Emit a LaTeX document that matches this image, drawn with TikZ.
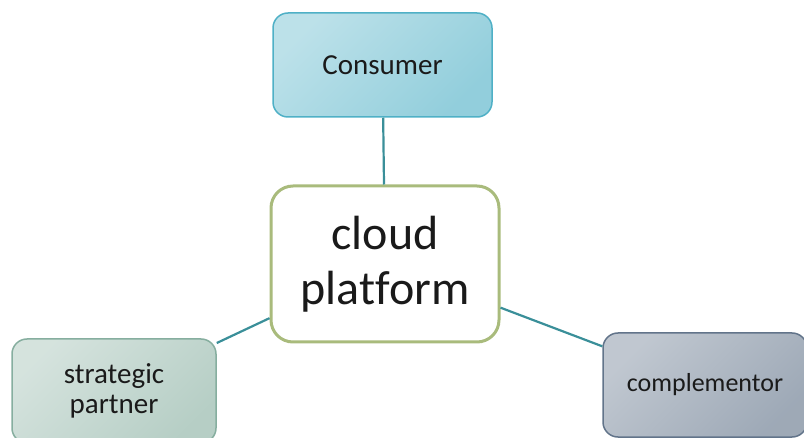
\documentclass[tikz,border=0pt]{standalone}
\usepackage{xcolor}
\usepackage{fontspec}
\setmainfont[Ligatures=NoCommon]{Carlito}
\usepackage{tikz}

\definecolor{linkteal}{HTML}{3A8F99}
\definecolor{consline}{HTML}{4FB0C6}
\definecolor{cloudline}{HTML}{A9BB7C}
\definecolor{partline}{HTML}{86AE9F}
\definecolor{compline}{HTML}{62748A}
\definecolor{textgray}{HTML}{1A1A1A}

\begin{document}
\begin{tikzpicture}[x=1pt, y=1pt,
    box/.style={rounded corners=15pt, inner sep=0pt, align=center, text=textgray,
        minimum height=104pt, line width=1.5pt},
    link/.style={linkteal, line width=2.2pt}]
    \useasboundingbox (0,0) rectangle (804,437);
    % centre and the three partners
    \node[box, draw=cloudline, fill=white, line width=3pt, rounded corners=22pt,
        minimum width=228pt, minimum height=156pt, font=\fontsize{48}{55}\selectfont]
        (cloud) at (385,173) {cloud\\platform};
    \node[box, draw=consline, top color=consline!38!white, bottom color=consline!62!white,
        shading angle=45, minimum width=219pt, font=\fontsize{29}{31}\selectfont]
        (consumer) at (382.5,372) {Consumer};
    \node[box, draw=partline, top color=partline!35!white, bottom color=partline!60!white,
        shading angle=45, minimum width=204pt, font=\fontsize{29}{30}\selectfont]
        (partner) at (114,46) {strategic\\partner};
    \node[box, draw=compline, top color=compline!40!white, bottom color=compline!62!white,
        shading angle=45, minimum width=204pt, font=\fontsize{26}{30}\selectfont]
        (compl) at (705,52) {complementor};
    % links
    \draw[link] (cloud) -- (consumer);
    \draw[link] (cloud) -- (partner);
    \draw[link] (cloud) -- (compl);
\end{tikzpicture}
\end{document}
